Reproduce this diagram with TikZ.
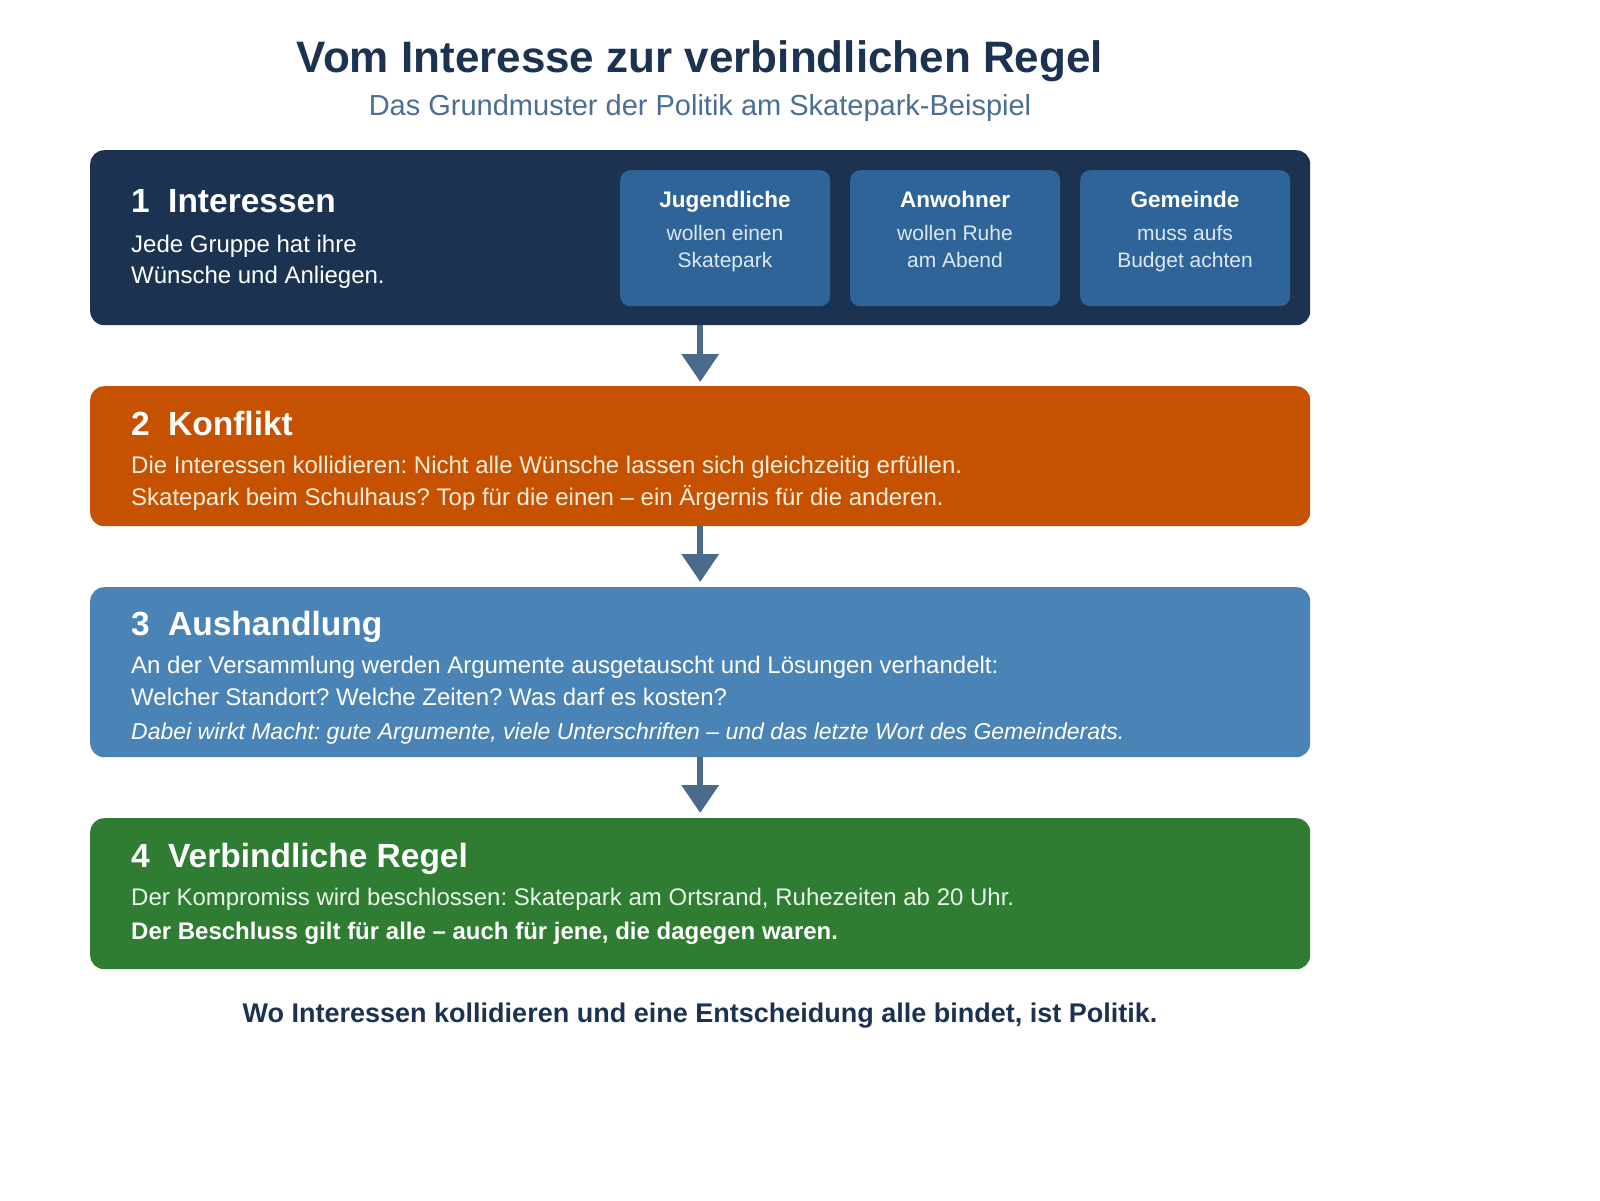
\documentclass[tikz,border=0pt]{standalone}
\usepackage{fontspec}
\setmainfont{Liberation Sans}
\usetikzlibrary{arrows.meta}
\frenchspacing
\definecolor{navy}{HTML}{1B3350}
\definecolor{subblue}{HTML}{2E6497}
\definecolor{orangebox}{HTML}{C65100}
\definecolor{bluebox}{HTML}{4A84B6}
\definecolor{greenbox}{HTML}{2E7D32}
\definecolor{subtitlecol}{HTML}{4A6E94}
\definecolor{arrowcol}{HTML}{4A6A8B}
\definecolor{creamtext}{HTML}{FFEEDD}
\definecolor{greentext}{HTML}{E8F5E9}
\definecolor{subtext}{HTML}{DCE8F4}
\tikzset{
  stagebox/.style={draw=none, rounded corners=14pt, inner sep=0pt, anchor=north west, minimum width=1220pt},
  groupbox/.style={draw=none, fill=subblue, rounded corners=10pt, inner sep=0pt, anchor=north west, minimum width=210pt, minimum height=136pt},
  txt/.style={inner sep=0pt, anchor=base west, text=white},
  ctxt/.style={inner sep=0pt, anchor=base, text=white},
  headfont/.style={font=\fontsize{33.5}{38}\selectfont\bfseries},
  bodyfont/.style={font=\fontsize{24}{30}\selectfont},
  flowarrow/.style={draw=arrowcol, line width=6.5pt, -{Triangle[length=28pt, width=36pt]}},
}
\begin{document}
\begin{tikzpicture}[x=1pt, y=-1pt]
\useasboundingbox (0,0) rectangle (1600,1200);
% title
\node[ctxt, text=navy, font=\fontsize{44}{50}\selectfont\bfseries] (title) at (700,72) {Vom Interesse zur verbindlichen Regel};
\node[ctxt, text=subtitlecol, font=\fontsize{29}{34}\selectfont] (subtitle) at (700,115) {Das Grundmuster der Politik am Skatepark-Beispiel};
% boxes
\node[stagebox, fill=navy, minimum height=175pt] (b1) at (90,150) {};
\node[stagebox, fill=orangebox, minimum height=140pt] (b2) at (90,386) {};
\node[stagebox, fill=bluebox, minimum height=170pt] (b3) at (90,587) {};
\node[stagebox, fill=greenbox, minimum height=151pt] (b4) at (90,818) {};
% arrows
\draw[flowarrow] (b1.south) -- ([yshift=4pt]b2.north);
\draw[flowarrow] (b2.south) -- ([yshift=5pt]b3.north);
\draw[flowarrow] (b3.south) -- ([yshift=5pt]b4.north);
% box 1
\node[txt, headfont] (h1n) at (131,212) {1};
\node[txt, headfont] (h1) at (168,212) {Interessen};
\node[txt, bodyfont] (t1a) at (131,252) {Jede Gruppe hat ihre};
\node[txt, bodyfont] (t1b) at (131,283) {Wünsche und Anliegen.};
\node[groupbox] (g1) at (620,170) {};
\node[groupbox] (g2) at (850,170) {};
\node[groupbox] (g3) at (1080,170) {};
\foreach \g/\cx/\a/\b/\c in {ga/725/Jugendliche/wollen einen/Skatepark, gb/955/Anwohner/wollen Ruhe/am Abend, gc/1185/Gemeinde/muss aufs/Budget achten}{
  \node[ctxt, font=\fontsize{22.5}{26}\selectfont\bfseries] (\g h) at (\cx,207) {\a};
  \node[ctxt, text=subtext, font=\fontsize{21}{26}\selectfont] (\g l1) at (\cx,240) {\b};
  \node[ctxt, text=subtext, font=\fontsize{21}{26}\selectfont] (\g l2) at (\cx,267) {\c};
}
% box 2
\node[txt, headfont] (h2n) at (131,435) {2};
\node[txt, headfont] (h2) at (168,435) {Konflikt};
\node[txt, bodyfont, text=creamtext] (t2a) at (131,473) {Die Interessen kollidieren: Nicht alle Wünsche lassen sich gleichzeitig erfüllen.};
\node[txt, bodyfont, text=creamtext] (t2b) at (131,505) {Skatepark beim Schulhaus? Top für die einen – ein Ärgernis für die anderen.};
% box 3
\node[txt, headfont] (h3n) at (131,635) {3};
\node[txt, headfont] (h3) at (168,635) {Aushandlung};
\node[txt, bodyfont] (t3a) at (131,673) {An der Versammlung werden Argumente ausgetauscht und Lösungen verhandelt:};
\node[txt, bodyfont] (t3b) at (131,705) {Welcher Standort? Welche Zeiten? Was darf es kosten?};
\node[txt, font=\fontsize{23}{28}\selectfont\itshape] (t3c) at (131,739) {Dabei wirkt Macht: gute Argumente, viele Unterschriften – und das letzte Wort des Gemeinderats.};
% box 4
\node[txt, headfont] (h4n) at (131,867) {4};
\node[txt, headfont] (h4) at (168,867) {Verbindliche Regel};
\node[txt, bodyfont, text=greentext] (t4a) at (131,905) {Der Kompromiss wird beschlossen: Skatepark am Ortsrand, Ruhezeiten ab 20 Uhr.};
\node[txt, font=\fontsize{24}{30}\selectfont\bfseries] (t4b) at (131,939) {Der Beschluss gilt für alle – auch für jene, die dagegen waren.};
% footer
\node[ctxt, text=navy, font=\fontsize{27}{32}\selectfont\bfseries] (footer) at (700,1022) {Wo Interessen kollidieren und eine Entscheidung alle bindet, ist Politik.};
\end{tikzpicture}
\end{document}
